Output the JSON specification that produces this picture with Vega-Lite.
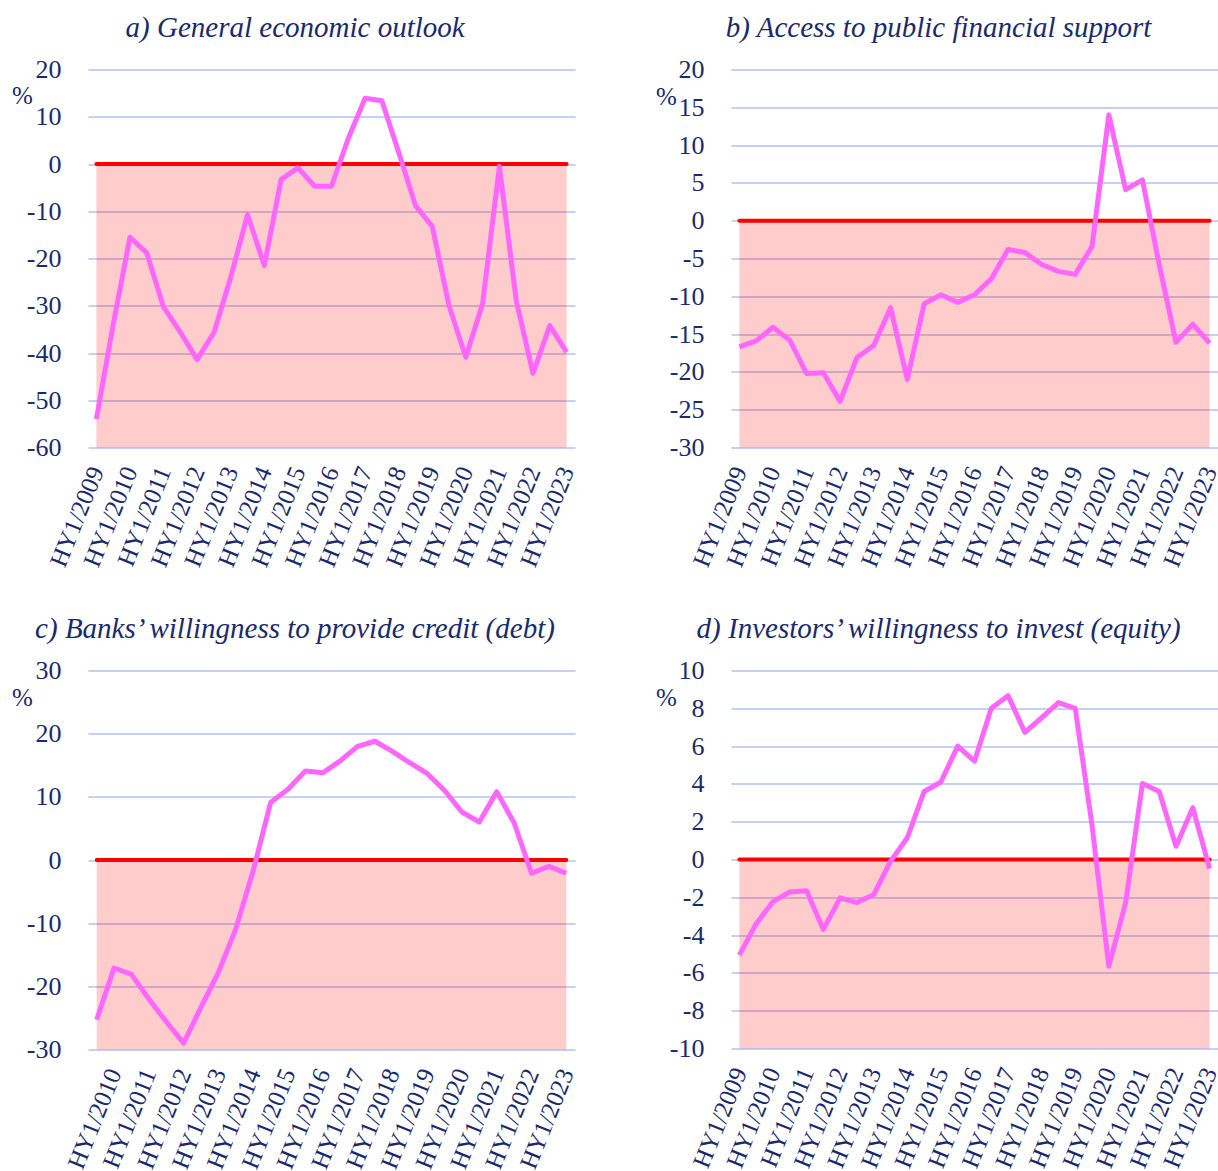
{
  "$schema": "https://vega.github.io/schema/vega-lite/v6.json",
  "background": "white",
  "padding": {"left": 11, "top": 13.5, "right": 0, "bottom": 0},
  "datasets": {
    "a": [
      {"period": "HY1/2009", "t": 2009, "value": -54},
      {"period": "HY2/2009", "t": 2009.5, "value": -34},
      {"period": "HY1/2010", "t": 2010, "value": -15.5},
      {"period": "HY2/2010", "t": 2010.5, "value": -18.8},
      {"period": "HY1/2011", "t": 2011, "value": -30.3},
      {"period": "HY2/2011", "t": 2011.5, "value": -35.6},
      {"period": "HY1/2012", "t": 2012, "value": -41.4},
      {"period": "HY2/2012", "t": 2012.5, "value": -35.7},
      {"period": "HY1/2013", "t": 2013, "value": -24},
      {"period": "HY2/2013", "t": 2013.5, "value": -10.7},
      {"period": "HY1/2014", "t": 2014, "value": -21.5},
      {"period": "HY2/2014", "t": 2014.5, "value": -3.3},
      {"period": "HY1/2015", "t": 2015, "value": -0.8},
      {"period": "HY2/2015", "t": 2015.5, "value": -4.7},
      {"period": "HY1/2016", "t": 2016, "value": -4.7},
      {"period": "HY2/2016", "t": 2016.5, "value": 5.4},
      {"period": "HY1/2017", "t": 2017, "value": 13.9},
      {"period": "HY2/2017", "t": 2017.5, "value": 13.4},
      {"period": "HY1/2018", "t": 2018, "value": 2.5},
      {"period": "HY2/2018", "t": 2018.5, "value": -8.8},
      {"period": "HY1/2019", "t": 2019, "value": -13.2},
      {"period": "HY2/2019", "t": 2019.5, "value": -30},
      {"period": "HY1/2020", "t": 2020, "value": -40.9},
      {"period": "HY2/2020", "t": 2020.5, "value": -29.5},
      {"period": "HY1/2021", "t": 2021, "value": -0.5},
      {"period": "HY2/2021", "t": 2021.5, "value": -28.9},
      {"period": "HY1/2022", "t": 2022, "value": -44.3},
      {"period": "HY2/2022", "t": 2022.5, "value": -34.2},
      {"period": "HY1/2023", "t": 2023, "value": -39.8}
    ],
    "b": [
      {"period": "HY1/2009", "t": 2009, "value": -16.7},
      {"period": "HY2/2009", "t": 2009.5, "value": -15.9},
      {"period": "HY1/2010", "t": 2010, "value": -14.1},
      {"period": "HY2/2010", "t": 2010.5, "value": -15.8},
      {"period": "HY1/2011", "t": 2011, "value": -20.2},
      {"period": "HY2/2011", "t": 2011.5, "value": -20.1},
      {"period": "HY1/2012", "t": 2012, "value": -23.9},
      {"period": "HY2/2012", "t": 2012.5, "value": -18.1},
      {"period": "HY1/2013", "t": 2013, "value": -16.5},
      {"period": "HY2/2013", "t": 2013.5, "value": -11.5},
      {"period": "HY1/2014", "t": 2014, "value": -21.0},
      {"period": "HY2/2014", "t": 2014.5, "value": -11.0},
      {"period": "HY1/2015", "t": 2015, "value": -9.8},
      {"period": "HY2/2015", "t": 2015.5, "value": -10.8},
      {"period": "HY1/2016", "t": 2016, "value": -9.8},
      {"period": "HY2/2016", "t": 2016.5, "value": -7.7},
      {"period": "HY1/2017", "t": 2017, "value": -3.8},
      {"period": "HY2/2017", "t": 2017.5, "value": -4.2},
      {"period": "HY1/2018", "t": 2018, "value": -5.8},
      {"period": "HY2/2018", "t": 2018.5, "value": -6.7},
      {"period": "HY1/2019", "t": 2019, "value": -7.1},
      {"period": "HY2/2019", "t": 2019.5, "value": -3.4},
      {"period": "HY1/2020", "t": 2020, "value": 14.0},
      {"period": "HY2/2020", "t": 2020.5, "value": 4.1},
      {"period": "HY1/2021", "t": 2021, "value": 5.4},
      {"period": "HY2/2021", "t": 2021.5, "value": -5.8},
      {"period": "HY1/2022", "t": 2022, "value": -16.1},
      {"period": "HY2/2022", "t": 2022.5, "value": -13.7},
      {"period": "HY1/2023", "t": 2023, "value": -16.2}
    ],
    "c": [
      {"period": "HY2/2009", "t": 2009.5, "value": -25.3},
      {"period": "HY1/2010", "t": 2010, "value": -17.1},
      {"period": "HY2/2010", "t": 2010.5, "value": -18.1},
      {"period": "HY1/2011", "t": 2011, "value": -22.0},
      {"period": "HY2/2011", "t": 2011.5, "value": -25.6},
      {"period": "HY1/2012", "t": 2012, "value": -29.0},
      {"period": "HY2/2012", "t": 2012.5, "value": -23.3},
      {"period": "HY1/2013", "t": 2013, "value": -17.8},
      {"period": "HY2/2013", "t": 2013.5, "value": -10.9},
      {"period": "HY1/2014", "t": 2014, "value": -1.7},
      {"period": "HY2/2014", "t": 2014.5, "value": 9.1},
      {"period": "HY1/2015", "t": 2015, "value": 11.2},
      {"period": "HY2/2015", "t": 2015.5, "value": 14.1},
      {"period": "HY1/2016", "t": 2016, "value": 13.8},
      {"period": "HY2/2016", "t": 2016.5, "value": 15.7},
      {"period": "HY1/2017", "t": 2017, "value": 18.0},
      {"period": "HY2/2017", "t": 2017.5, "value": 18.8},
      {"period": "HY1/2018", "t": 2018, "value": 17.2},
      {"period": "HY2/2018", "t": 2018.5, "value": 15.4},
      {"period": "HY1/2019", "t": 2019, "value": 13.7},
      {"period": "HY2/2019", "t": 2019.5, "value": 11.0},
      {"period": "HY1/2020", "t": 2020, "value": 7.6},
      {"period": "HY2/2020", "t": 2020.5, "value": 6.0},
      {"period": "HY1/2021", "t": 2021, "value": 10.8},
      {"period": "HY2/2021", "t": 2021.5, "value": 5.9},
      {"period": "HY1/2022", "t": 2022, "value": -2.1},
      {"period": "HY2/2022", "t": 2022.5, "value": -1.0},
      {"period": "HY1/2023", "t": 2023, "value": -2.1}
    ],
    "d": [
      {"period": "HY1/2009", "t": 2009, "value": -5.06},
      {"period": "HY2/2009", "t": 2009.5, "value": -3.4},
      {"period": "HY1/2010", "t": 2010, "value": -2.23},
      {"period": "HY2/2010", "t": 2010.5, "value": -1.72},
      {"period": "HY1/2011", "t": 2011, "value": -1.65},
      {"period": "HY2/2011", "t": 2011.5, "value": -3.7},
      {"period": "HY1/2012", "t": 2012, "value": -2.03},
      {"period": "HY2/2012", "t": 2012.5, "value": -2.28},
      {"period": "HY1/2013", "t": 2013, "value": -1.86},
      {"period": "HY2/2013", "t": 2013.5, "value": -0.1},
      {"period": "HY1/2014", "t": 2014, "value": 1.15},
      {"period": "HY2/2014", "t": 2014.5, "value": 3.6},
      {"period": "HY1/2015", "t": 2015, "value": 4.1},
      {"period": "HY2/2015", "t": 2015.5, "value": 6.0},
      {"period": "HY1/2016", "t": 2016, "value": 5.2},
      {"period": "HY2/2016", "t": 2016.5, "value": 8.0},
      {"period": "HY1/2017", "t": 2017, "value": 8.67},
      {"period": "HY2/2017", "t": 2017.5, "value": 6.73},
      {"period": "HY1/2018", "t": 2018, "value": 7.5},
      {"period": "HY2/2018", "t": 2018.5, "value": 8.3},
      {"period": "HY1/2019", "t": 2019, "value": 8.0},
      {"period": "HY2/2019", "t": 2019.5, "value": 1.8},
      {"period": "HY1/2020", "t": 2020, "value": -5.65},
      {"period": "HY2/2020", "t": 2020.5, "value": -2.3},
      {"period": "HY1/2021", "t": 2021, "value": 4.02},
      {"period": "HY2/2021", "t": 2021.5, "value": 3.6},
      {"period": "HY1/2022", "t": 2022, "value": 0.7},
      {"period": "HY2/2022", "t": 2022.5, "value": 2.74},
      {"period": "HY1/2023", "t": 2023, "value": -0.48}
    ]
  },
  "columns": 2,
  "spacing": {"row": 223, "column": 156},
  "bounds": "flush",
  "concat": [
    {
      "title": {"text": "a) General economic outlook"},
      "width": 487,
      "height": 378,
      "resolve": {"axis": {"x": "independent", "y": "independent"}},
      "layer": [
        {
          "data": {"values": [{}]},
          "mark": {"type": "rect", "color": "#ff0000", "opacity": 0.2},
          "encoding": {
            "x": {"datum": 2009, "type": "quantitative", "scale": {"domain": [2008.75, 2023.25], "nice": false, "zero": false}, "axis": null},
            "x2": {"datum": 2023},
            "y": {"datum": 0, "type": "quantitative", "scale": {"domain": [-60, 20], "nice": false}, "axis": null},
            "y2": {"datum": -60}
          }
        },
        {
          "data": {"values": [{}]},
          "mark": {"type": "rule", "color": "#ff0000", "strokeWidth": 4, "strokeCap": "round"},
          "encoding": {
            "x": {"datum": 2009, "type": "quantitative", "axis": null},
            "x2": {"datum": 2023},
            "y": {"datum": 0, "type": "quantitative", "axis": null}
          }
        },
        {
          "data": {"name": "a"},
          "mark": {"type": "line", "color": "#ff66ff", "strokeWidth": 5, "strokeJoin": "round"},
          "encoding": {
            "x": {"field": "t", "type": "quantitative", "scale": {"domain": [2008.75, 2023.25], "nice": false, "zero": false},
                  "axis": {"title": null, "grid": false, "values": [2009, 2010, 2011, 2012, 2013, 2014, 2015, 2016, 2017, 2018, 2019, 2020, 2021, 2022, 2023], "labelExpr": "'HY1/' + datum.value", "labelOverlap": false, "labelFont": "Liberation Serif"}},
            "y": {"field": "value", "type": "quantitative", "scale": {"domain": [-60, 20], "nice": false},
                  "axis": {"title": "%", "titleX": -66, "titleY": 26, "grid": true, "values": [-60, -50, -40, -30, -20, -10, 0, 10, 20], "labelExpr": "'' + datum.value", "labelOverlap": false, "labelFont": "Liberation Serif", "titleFont": "Liberation Serif"}}
          }
        }
      ]
    },
    {
      "title": {"text": "b) Access to public financial support"},
      "width": 487,
      "height": 378,
      "resolve": {"axis": {"x": "independent", "y": "independent"}},
      "layer": [
        {
          "data": {"values": [{}]},
          "mark": {"type": "rect", "color": "#ff0000", "opacity": 0.2},
          "encoding": {
            "x": {"datum": 2009, "type": "quantitative", "scale": {"domain": [2008.75, 2023.25], "nice": false, "zero": false}, "axis": null},
            "x2": {"datum": 2023},
            "y": {"datum": 0, "type": "quantitative", "scale": {"domain": [-30, 20], "nice": false}, "axis": null},
            "y2": {"datum": -30}
          }
        },
        {
          "data": {"values": [{}]},
          "mark": {"type": "rule", "color": "#ff0000", "strokeWidth": 4, "strokeCap": "round"},
          "encoding": {
            "x": {"datum": 2009, "type": "quantitative", "axis": null},
            "x2": {"datum": 2023},
            "y": {"datum": 0, "type": "quantitative", "axis": null}
          }
        },
        {
          "data": {"name": "b"},
          "mark": {"type": "line", "color": "#ff66ff", "strokeWidth": 5, "strokeJoin": "round"},
          "encoding": {
            "x": {"field": "t", "type": "quantitative", "scale": {"domain": [2008.75, 2023.25], "nice": false, "zero": false},
                  "axis": {"title": null, "grid": false, "values": [2009, 2010, 2011, 2012, 2013, 2014, 2015, 2016, 2017, 2018, 2019, 2020, 2021, 2022, 2023], "labelExpr": "'HY1/' + datum.value", "labelOverlap": false, "labelFont": "Liberation Serif"}},
            "y": {"field": "value", "type": "quantitative", "scale": {"domain": [-30, 20], "nice": false},
                  "axis": {"title": "%", "titleX": -65, "titleY": 27, "grid": true, "values": [-30, -25, -20, -15, -10, -5, 0, 5, 10, 15, 20], "labelExpr": "'' + datum.value", "labelOverlap": false, "labelFont": "Liberation Serif", "titleFont": "Liberation Serif"}}
          }
        }
      ]
    },
    {
      "title": {"text": "c) Banks’ willingness to provide credit (debt)"},
      "width": 487,
      "height": 379,
      "resolve": {"axis": {"x": "independent", "y": "independent"}},
      "layer": [
        {
          "data": {"values": [{}]},
          "mark": {"type": "rect", "color": "#ff0000", "opacity": 0.2},
          "encoding": {
            "x": {"datum": 2009.5, "type": "quantitative", "scale": {"domain": [2009.25, 2023.25], "nice": false, "zero": false}, "axis": null},
            "x2": {"datum": 2023},
            "y": {"datum": 0, "type": "quantitative", "scale": {"domain": [-30, 30], "nice": false}, "axis": null},
            "y2": {"datum": -30}
          }
        },
        {
          "data": {"values": [{}]},
          "mark": {"type": "rule", "color": "#ff0000", "strokeWidth": 4, "strokeCap": "round"},
          "encoding": {
            "x": {"datum": 2009.5, "type": "quantitative", "axis": null},
            "x2": {"datum": 2023},
            "y": {"datum": 0, "type": "quantitative", "axis": null}
          }
        },
        {
          "data": {"name": "c"},
          "mark": {"type": "line", "color": "#ff66ff", "strokeWidth": 5, "strokeJoin": "round"},
          "encoding": {
            "x": {"field": "t", "type": "quantitative", "scale": {"domain": [2009.25, 2023.25], "nice": false, "zero": false},
                  "axis": {"title": null, "grid": false, "values": [2010, 2011, 2012, 2013, 2014, 2015, 2016, 2017, 2018, 2019, 2020, 2021, 2022, 2023], "labelExpr": "'HY1/' + datum.value", "labelOverlap": false, "labelFont": "Liberation Serif"}},
            "y": {"field": "value", "type": "quantitative", "scale": {"domain": [-30, 30], "nice": false},
                  "axis": {"title": "%", "titleX": -66, "titleY": 27, "grid": true, "values": [-30, -20, -10, 0, 10, 20, 30], "labelExpr": "'' + datum.value", "labelOverlap": false, "labelFont": "Liberation Serif", "titleFont": "Liberation Serif"}}
          }
        }
      ]
    },
    {
      "title": {"text": "d) Investors’ willingness to invest (equity)"},
      "width": 487,
      "height": 378,
      "resolve": {"axis": {"x": "independent", "y": "independent"}},
      "layer": [
        {
          "data": {"values": [{}]},
          "mark": {"type": "rect", "color": "#ff0000", "opacity": 0.2},
          "encoding": {
            "x": {"datum": 2009, "type": "quantitative", "scale": {"domain": [2008.75, 2023.25], "nice": false, "zero": false}, "axis": null},
            "x2": {"datum": 2023},
            "y": {"datum": 0, "type": "quantitative", "scale": {"domain": [-10, 10], "nice": false}, "axis": null},
            "y2": {"datum": -10}
          }
        },
        {
          "data": {"values": [{}]},
          "mark": {"type": "rule", "color": "#ff0000", "strokeWidth": 4, "strokeCap": "round"},
          "encoding": {
            "x": {"datum": 2009, "type": "quantitative", "axis": null},
            "x2": {"datum": 2023},
            "y": {"datum": 0, "type": "quantitative", "axis": null}
          }
        },
        {
          "data": {"name": "d"},
          "mark": {"type": "line", "color": "#ff66ff", "strokeWidth": 5, "strokeJoin": "round"},
          "encoding": {
            "x": {"field": "t", "type": "quantitative", "scale": {"domain": [2008.75, 2023.25], "nice": false, "zero": false},
                  "axis": {"title": null, "grid": false, "values": [2009, 2010, 2011, 2012, 2013, 2014, 2015, 2016, 2017, 2018, 2019, 2020, 2021, 2022, 2023], "labelExpr": "'HY1/' + datum.value", "labelOverlap": false, "labelFont": "Liberation Serif"}},
            "y": {"field": "value", "type": "quantitative", "scale": {"domain": [-10, 10], "nice": false},
                  "axis": {"title": "%", "titleX": -65, "titleY": 27, "grid": true, "values": [-10, -8, -6, -4, -2, 0, 2, 4, 6, 8, 10], "labelExpr": "'' + datum.value", "labelOverlap": false, "labelFont": "Liberation Serif", "titleFont": "Liberation Serif"}}
          }
        }
      ]
    }
  ],
  "config": {
    "view": {"stroke": null},
    "font": "Liberation Serif",
    "title": {"font": "Liberation Serif", "fontStyle": "italic", "fontSize": 29, "fontWeight": "normal", "color": "#1a2a6c", "anchor": "middle", "frame": "bounds", "offset": 14, "baseline": "alphabetic"},
    "axis": {
      "labelFont": "Liberation Serif", "labelFontSize": 25, "labelColor": "#1a2a6c",
      "domain": false, "ticks": false, "gridColor": "#c5d0f5", "gridWidth": 2,
      "titleFont": "Liberation Serif", "titleFontSize": 25, "titleFontWeight": "normal", "titleColor": "#1a2a6c",
      "titleAngle": 0, "titleAlign": "center", "titleBaseline": "middle"
    },
    "axisX": {"grid": false, "labelAngle": -68, "labelAlign": "right", "labelBaseline": "middle", "labelPadding": 20, "labelOverlap": false, "labelFlush": false},
    "axisY": {"labelPadding": 27, "labelAlign": "right", "labelOverlap": false, "labelFlush": false, "labelFontSize": 26}
  }
}
